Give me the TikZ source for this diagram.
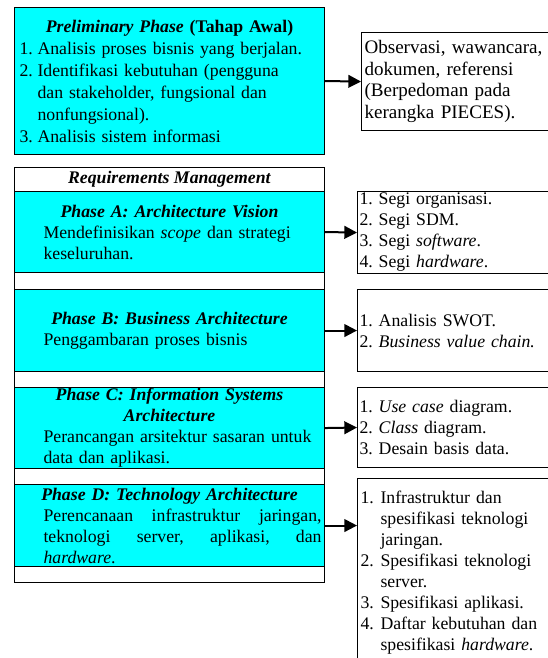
\documentclass[tikz,border=0pt]{standalone}
\usepackage{fontspec}
\setmainfont{Liberation Serif}
\usetikzlibrary{positioning}
\usetikzlibrary{arrows.meta}
\definecolor{phasecyan}{RGB}{0,255,255}
\newcommand{\itm}[3][15pt]{\par\noindent\hangindent=#1\hangafter=1\makebox[#1][l]{#2}#3}
\hbadness=10000
\hfuzz=3pt

\begin{document}
\begin{tikzpicture}[x=0.75pt, y=-0.75pt,
  box/.style={draw=black, line width=0.8pt, anchor=north west, inner sep=0pt, font=\fontsize{13.3}{15.75}\selectfont\frenchspacing},
  cyanbox/.style={box, fill=phasecyan},
  plainbox/.style={box, fill=white},
  link/.style={-{Triangle[length=9.5pt,width=9.5pt]}, line width=1.5pt}]
\useasboundingbox (0,0) rectangle (548,658);
\clip (0,0) rectangle (548,658);

\node[cyanbox, minimum width=232.5pt, minimum height=110.25pt, inner xsep=3.75pt, text width=225pt] (pre) at (14,7) {%
{\centering\textbf{\textit{Preliminary Phase} (Tahap Awal)}\par}%
\raggedright\fontsize{13.3}{16.5}\selectfont
\itm[13.5pt]{1.}{Analisis proses bisnis yang berjalan.}
\itm[13.5pt]{2.}{Identifikasi kebutuhan (pengguna\newline dan stakeholder, fungsional dan\newline nonfungsional).}
\itm[13.5pt]{3.}{Analisis sistem informasi}\par};
\node[plainbox, font=\fontsize{14.3}{16.3}\selectfont, minimum width=149.25pt, minimum height=73.5pt, inner xsep=2.25pt, text width=144.75pt, align=left] (obs) at (361,32) {Observasi, wawancara,\\ dokumen, referensi\\ (Berpedoman pada\\ kerangka PIECES).};

\node[plainbox, minimum width=232.5pt, minimum height=311.25pt] (req) at (14,167) {};
\node[plainbox, minimum width=232.5pt, minimum height=18pt] (rmhead) at (14,167) {\textbf{\textit{Requirements Management}}};
\node[cyanbox, minimum width=232.5pt, minimum height=60.75pt, inner xsep=3pt, text width=226.5pt] (phA) at (14,191) {%
{\centering\textbf{\textit{Phase A: Architecture Vision}}\par}%
{\raggedright\leftskip=18.75pt Mendefinisikan \textit{scope} dan strategi\\ keseluruhan.\par}};
\node[cyanbox, minimum width=232.5pt, minimum height=61.5pt, inner xsep=3pt, text width=226.5pt] (phB) at (14,289) {%
{\centering\textbf{\textit{Phase B: Business Architecture}}\par}%
{\raggedright\leftskip=18.75pt Penggambaran proses bisnis\par}};
\node[cyanbox, minimum width=232.5pt, minimum height=60.75pt, inner xsep=3pt, text width=226.5pt] (phC) at (14,387) {%
{\centering\textbf{\textit{Phase C: Information Systems\\ Architecture}}\par}%
{\raggedright\leftskip=18.75pt Perancangan arsitektur sasaran untuk\\ data dan aplikasi.\par}};
\node[cyanbox, minimum width=232.5pt, minimum height=61.5pt, inner xsep=3pt, text width=226.5pt] (phD) at (14,484) {%
{\centering\textbf{\textit{Phase D: Technology Architecture}}\par}%
{\raggedright\leftskip=18.75pt \makebox[208.5pt][s]{Perencanaan\hfill infrastruktur\hfill jaringan,}\newline
\makebox[208.5pt][s]{teknologi\hfill server,\hfill aplikasi,\hfill dan}\newline
\textit{hardware}.\par}};

\node[plainbox, minimum width=152.25pt, minimum height=61.5pt, inner xsep=1.5pt, text width=149.25pt, align=left] (rA) at (357,191) {1. Segi organisasi.\\ 2. Segi SDM.\\ 3. Segi \textit{software}.\\ 4. Segi \textit{hardware}.};
\node[plainbox, minimum width=152.25pt, minimum height=61.5pt, inner xsep=1.5pt, text width=149.25pt, align=left] (rB) at (357,289) {1. Analisis SWOT.\\ 2. \textit{Business value chain.}};
\node[plainbox, minimum width=152.25pt, minimum height=60pt, inner xsep=1.5pt, text width=149.25pt, align=left] (rC) at (357,387) {1. \textit{Use case} diagram.\\ 2. \textit{Class} diagram.\\ 3. Desain basis data.};
\node[plainbox, minimum width=152.25pt, inner xsep=2.25pt, inner ysep=3pt, text width=148.5pt] (rD) at (357,478) {%
\raggedright
\itm{1.}{Infrastruktur dan\newline spesifikasi teknologi\newline jaringan.}
\itm{2.}{Spesifikasi teknologi\newline server.}
\itm{3.}{Spesifikasi aplikasi.}
\itm{4.}{Daftar kebutuhan dan\newline spesifikasi \textit{hardware}.}\par\vspace*{30pt}};

\draw[link] (pre.east) -- (obs.west);
\draw[link] (phA.east) -- (rA.west);
\draw[link] (phB.east) -- (rB.west);
\draw[link] (phC.east) -- (rC.west);
\draw[link] (phD.east) -- (rD.west |- phD.east);
\end{tikzpicture}
\end{document}
